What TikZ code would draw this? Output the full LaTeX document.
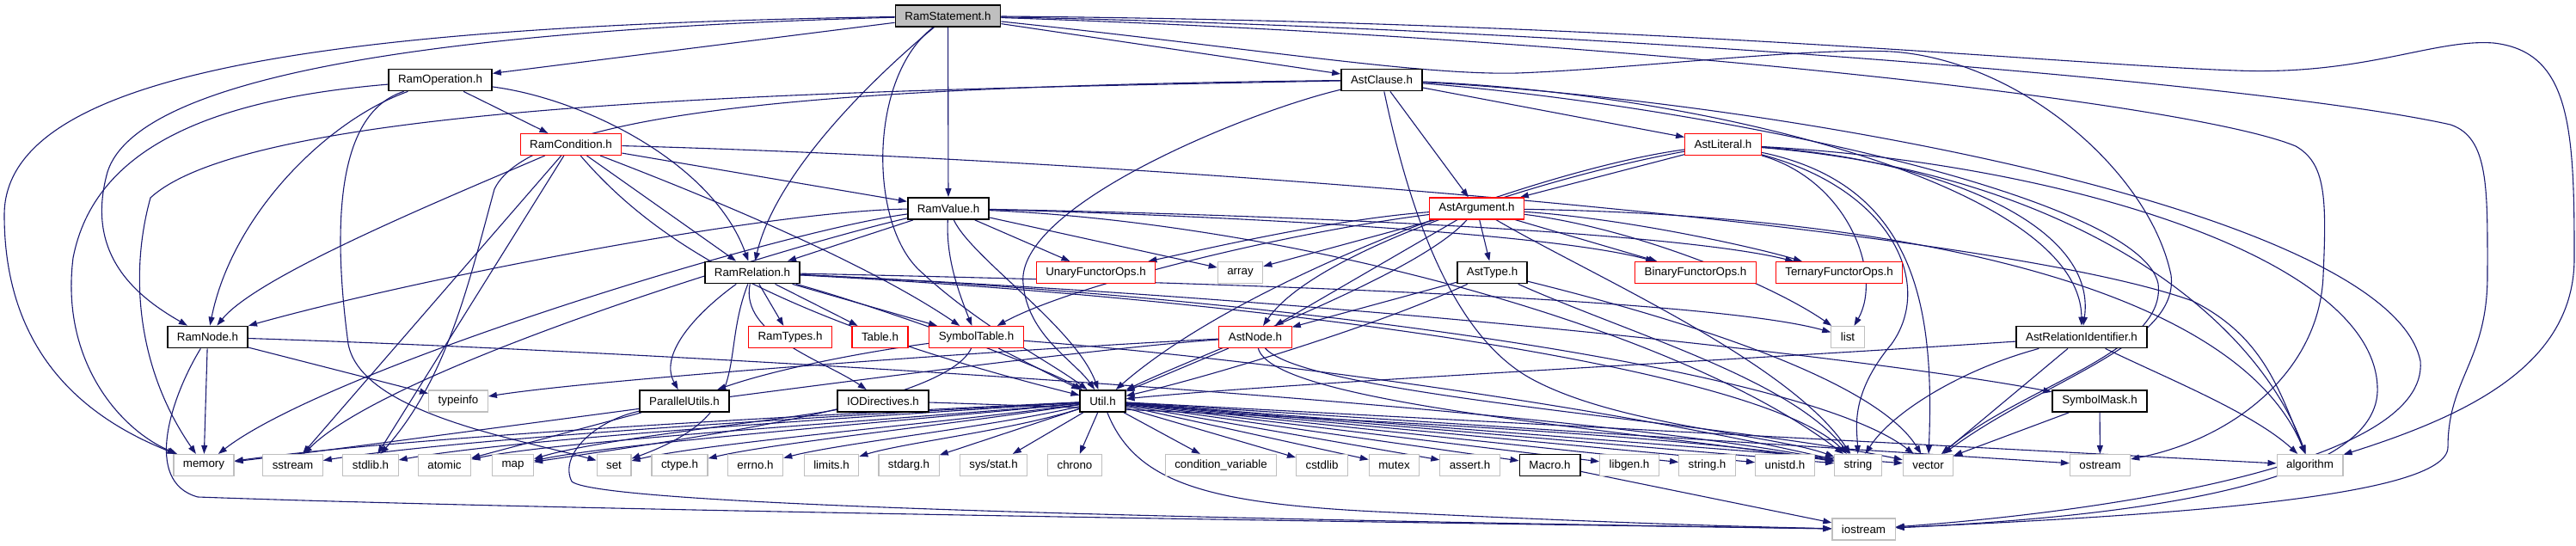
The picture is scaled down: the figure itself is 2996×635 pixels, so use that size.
\documentclass[tikz,border=0pt]{standalone}
\usepackage{fontspec}
\setmainfont{Liberation Sans}
\usepackage{tikz}
\usetikzlibrary{arrows.meta}
\pgfdeclarelayer{background}
\pgfsetlayers{background,main}
\definecolor{edgeNavy}{RGB}{25, 25, 112}
\definecolor{boxRed}{RGB}{255, 0, 0}
\definecolor{boxGrey}{RGB}{191, 191, 191}

\begin{document}
\begin{tikzpicture}[x=0.5pt, y=-0.5pt,
    every node/.style={font=\fontsize{6.67}{8}\selectfont, inner xsep=5.5pt, inner ysep=0pt, minimum height=12.5pt, fill=white},
    file/.style={draw=black, line width=0.9pt},
    cut/.style={draw=boxRed, line width=0.6pt},
    sys/.style={draw=boxGrey, line width=0.6pt},
    root/.style={draw=black, fill=boxGrey, line width=0.9pt},
    dep/.style={draw=edgeNavy, line width=0.55pt, -{Triangle[length=5pt, width=3.5pt]}}]
  \useasboundingbox (0,0) rectangle (2996,635);

  % project headers
  \node[root] (rs) at (1102.5,18.5) {RamStatement.h};
  \node[file] (ro) at (512,93) {RamOperation.h};
  \node[file] (ac) at (1607,93) {AstClause.h};
  \node[cut] (rc) at (664,168) {RamCondition.h};
  \node[cut] (al) at (2004,168) {AstLiteral.h};
  \node[file] (rv) at (1103,242.5) {RamValue.h};
  \node[cut] (aa) at (1717.5,242.5) {AstArgument.h};
  \node[file] (rr) at (875,317) {RamRelation.h};
  \node[cut] (ufo) at (1274.5,317) {UnaryFunctorOps.h};
  \node[sys] (arr) at (1442.5,317) {array};
  \node[file] (at) at (1735.5,317) {AstType.h};
  \node[cut] (bfo) at (1972,317) {BinaryFunctorOps.h};
  \node[cut] (tfo) at (2139,317) {TernaryFunctorOps.h};
  \node[file] (rn) at (241.5,392) {RamNode.h};
  \node[cut] (rt) at (919,392) {RamTypes.h};
  \node[cut] (tab) at (1023.5,392) {Table.h};
  \node[cut] (st) at (1135.5,392) {SymbolTable.h};
  \node[cut] (an) at (1460,392) {AstNode.h};
  \node[sys] (lst) at (2149,392) {list};
  \node[file] (arid) at (2421,392) {AstRelationIdentifier.h};
  \node[sys] (ti) at (533,466.5) {typeinfo};
  \node[file] (pu) at (796,466.5) {ParallelUtils.h};
  \node[file] (iod) at (1027,466.5) {IODirectives.h};
  \node[file] (util) at (1282.5,466.5) {Util.h};
  \node[file] (sm) at (2442,466.5) {SymbolMask.h};

  % system headers
  \node[sys] (mem) at (237,541) {memory};
  \node[sys] (sst) at (340.5,541) {sstream};
  \node[sys] (stdl) at (431,541) {stdlib.h};
  \node[sys] (atom) at (517,541) {atomic};
  \node[sys] (map) at (596.5,541) {map};
  \node[sys] (set) at (714,541) {set};
  \node[sys] (ctype) at (790.5,541) {ctype.h};
  \node[sys] (errno) at (878.5,541) {errno.h};
  \node[sys] (lim) at (967,541) {limits.h};
  \node[sys] (stdarg) at (1057,541) {stdarg.h};
  \node[sys] (sstat) at (1155.5,541) {sys/stat.h};
  \node[sys] (chr) at (1250,541) {chrono};
  \node[sys] (cvar) at (1420,541) {condition\_variable};
  \node[sys] (cstd) at (1537.5,541) {cstdlib};
  \node[sys] (mtx) at (1621.5,541) {mutex};
  \node[sys] (asrt) at (1709.5,541) {assert.h};
  \node[file] (macro) at (1802.5,541) {Macro.h};
  \node[sys] (libgen) at (1895,541) {libgen.h};
  \node[sys] (strh) at (1985.5,541) {string.h};
  \node[sys] (unistd) at (2076,541) {unistd.h};
  \node[sys] (str) at (2161,541) {string};
  \node[sys] (vec) at (2242.5,541) {vector};
  \node[sys] (ost) at (2442.5,541) {ostream};
  \node[sys] (algo) at (2686.5,541) {algorithm};
  \node[sys] (ios) at (2167.5,615.5) {iostream};

  \begin{pgfonlayer}{background}
  % RamStatement.h
  \draw[dep] (rs) -- (ro);
  \draw[dep] (rs) -- (ac);
  \draw[dep] (rs) -- (rv);
  \draw[dep] (rs) .. controls (1040,70) and (905,190) .. (rr);
  \draw[dep] (rs) .. controls (500,35) and (160,90) .. (125,200) .. controls (100,290) and (150,340) .. (rn);
  \draw[dep] (rs) .. controls (400,30) and (5,80) .. (5,250) .. controls (5,420) and (110,490) .. (mem);
  \draw[dep] (rs) .. controls (1010,90) and (1010,260) .. (1070,315) .. controls (1140,380) and (1220,420) .. (util);
  \draw[dep] (rs) .. controls (1900,25) and (2400,75) .. (2600,82) .. controls (2750,88) and (2830,45) .. (2900,50) .. controls (2990,60) and (2994,150) .. (2994,300) .. controls (2994,420) and (2880,480) .. (algo);
  \draw[dep] (rs) .. controls (1900,35) and (2650,100) .. (2850,145) .. controls (2895,160) and (2893,220) .. (2893,320) .. controls (2893,420) and (2847,440) .. (2847,520) .. controls (2847,580) and (2500,600) .. (ios);
  \draw[dep] (rs) .. controls (1900,45) and (2550,120) .. (2670,170) .. controls (2705,190) and (2706,230) .. (2702,320) .. controls (2698,430) and (2600,510) .. (ost);
  \draw[dep] (rs) .. controls (1450,55) and (1650,88) .. (1765,85) .. controls (1900,80) and (2100,55) .. (2200,60) .. controls (2350,70) and (2500,200) .. (2525,320) .. controls (2535,400) and (2380,440) .. (vec);

  % RamOperation.h
  \draw[dep] (ro) -- (rc);
  \draw[dep] (ro) .. controls (680,115) and (830,190) .. (rr);
  \draw[dep] (ro) .. controls (380,140) and (270,250) .. (rn);
  \draw[dep] (ro) .. controls (250,115) and (110,170) .. (85,300) .. controls (70,420) and (140,500) .. (mem);
  \draw[dep] (ro) .. controls (395,130) and (385,250) .. (405,400) .. controls (420,480) and (600,510) .. (set);

  % RamCondition.h
  \draw[dep] (rc) -- (rv);
  \draw[dep] (rc) -- (rr);
  \draw[dep] (rc) .. controls (520,230) and (300,320) .. (rn);
  \draw[dep] (rc) -- (sst);
  \draw[dep] (rc) -- (stdl);
  \draw[dep] (rc) .. controls (800,220) and (1000,300) .. (st);
  \draw[dep] (rc) .. controls (760,280) and (900,370) .. (util);
  \draw[dep] (rc) .. controls (1300,185) and (2300,260) .. (2550,350) .. controls (2630,390) and (2650,450) .. (algo);

  % RamValue.h
  \draw[dep] (rv) -- (rr);
  \draw[dep] (rv) .. controls (900,245) and (500,320) .. (rn);
  \draw[dep] (rv) -- (ufo);
  \draw[dep] (rv) -- (arr);
  \draw[dep] (rv) .. controls (1400,250) and (1800,270) .. (bfo);
  \draw[dep] (rv) .. controls (1500,250) and (1950,270) .. (tfo);
  \draw[dep] (rv) .. controls (1100,300) and (1115,340) .. (st);
  \draw[dep] (rv) .. controls (1130,300) and (1250,380) .. (util);
  \draw[dep] (rv) .. controls (900,270) and (380,430) .. (mem);
  \draw[dep] (rv) .. controls (900,290) and (450,430) .. (sst);
  \draw[dep] (rv) .. controls (1500,260) and (1950,380) .. (str);

  % RamRelation.h
  \draw[dep] (rr) -- (rt);
  \draw[dep] (rr) -- (tab);
  \draw[dep] (rr) -- (st);
  \draw[dep] (rr) .. controls (815,360) and (765,410) .. (pu);
  \draw[dep] (rr) .. controls (860,390) and (960,420) .. (iod);
  \draw[dep] (rr) .. controls (835,420) and (880,480) .. (set);
  \draw[dep] (rr) .. controls (1000,350) and (1200,420) .. (util);
  \draw[dep] (rr) .. controls (1500,330) and (2000,350) .. (lst);
  \draw[dep] (rr) .. controls (1500,350) and (2050,430) .. (str);
  \draw[dep] (rr) .. controls (1500,345) and (2100,430) .. (vec);
  \draw[dep] (rr) .. controls (1600,350) and (2200,420) .. (sm);

  % SymbolTable.h
  \draw[dep] (st) -- (util);
  \draw[dep] (st) .. controls (1000,410) and (900,430) .. (pu);
  \draw[dep] (st) .. controls (1100,470) and (800,510) .. (map);
  \draw[dep] (st) .. controls (1500,420) and (1900,480) .. (str);

  % AstClause.h
  \draw[dep] (ac) -- (al);
  \draw[dep] (ac) -- (aa);
  \draw[dep] (ac) .. controls (1450,130) and (1180,240) .. (1190,330) .. controls (1195,390) and (1250,420) .. (util);
  \draw[dep] (ac) .. controls (1640,250) and (1690,390) .. (1780,440) .. controls (1880,495) and (2060,505) .. (str);
  \draw[dep] (ac) .. controls (1000,105) and (300,115) .. (175,230) .. controls (150,320) and (160,430) .. (mem);
  \draw[dep] (ac) .. controls (1000,100) and (620,125) .. (575,220) .. controls (545,330) and (520,440) .. (stdl);
  \draw[dep] (ac) .. controls (2000,110) and (2420,220) .. (arid);
  \draw[dep] (ac) .. controls (2000,125) and (2490,230) .. (2510,330) .. controls (2520,410) and (2350,450) .. (vec);
  \draw[dep] (ac) .. controls (2100,120) and (2780,250) .. (2815,420) .. controls (2825,540) and (2450,595) .. (ios);

  % AstLiteral.h
  \draw[dep] (al) -- (aa);
  \draw[dep] (al) .. controls (2250,185) and (2440,260) .. (arid);
  \draw[dep] (al) .. controls (1800,195) and (1450,320) .. (util);
  \draw[dep] (al) .. controls (1800,205) and (1530,290) .. (an);
  \draw[dep] (al) .. controls (2150,210) and (2190,320) .. (lst);
  \draw[dep] (al) .. controls (2200,220) and (2250,330) .. (2200,400) .. controls (2150,460) and (2160,500) .. (str);
  \draw[dep] (al) .. controls (2230,215) and (2250,360) .. (vec);
  \draw[dep] (al) .. controls (2400,190) and (2760,300) .. (2765,450) .. controls (2770,560) and (2500,600) .. (ios);
  \draw[dep] (al) .. controls (2400,200) and (2620,360) .. (algo);

  % AstArgument.h
  \draw[dep] (aa) -- (at);
  \draw[dep] (aa) -- (an);
  \draw[dep] (aa) .. controls (1550,255) and (1400,290) .. (ufo);
  \draw[dep] (aa) -- (arr);
  \draw[dep] (aa) -- (bfo);
  \draw[dep] (aa) .. controls (1900,255) and (2050,290) .. (tfo);
  \draw[dep] (aa) .. controls (1500,270) and (1250,330) .. (st);
  \draw[dep] (aa) .. controls (1650,320) and (1400,410) .. (util);
  \draw[dep] (aa) .. controls (1900,265) and (2060,330) .. (lst);
  \draw[dep] (aa) .. controls (1850,320) and (2080,420) .. (str);
  \draw[dep] (aa) .. controls (2200,250) and (2600,330) .. (algo);

  % AstType.h
  \draw[dep] (at) -- (an);
  \draw[dep] (at) .. controls (1600,380) and (1400,440) .. (util);
  \draw[dep] (at) .. controls (1900,390) and (2080,440) .. (str);
  \draw[dep] (at) .. controls (1950,370) and (2180,440) .. (vec);

  % AstNode.h
  \draw[dep] (an) .. controls (1200,405) and (700,440) .. (ti);
  \draw[dep] (an) -- (util);
  \draw[dep] (an) .. controls (1200,410) and (500,510) .. (mem);
  \draw[dep] (an) .. controls (1480,470) and (1900,500) .. (str);
  \draw[dep] (an) .. controls (1520,460) and (2000,490) .. (vec);

  % Util.h
  \draw[dep] (util) .. controls (1000,480) and (500,505) .. (mem);
  \draw[dep] (util) .. controls (1000,482) and (550,508) .. (sst);
  \draw[dep] (util) .. controls (1000,485) and (600,510) .. (stdl);
  \draw[dep] (util) .. controls (1050,488) and (650,512) .. (atom);
  \draw[dep] (util) .. controls (1050,490) and (720,515) .. (map);
  \draw[dep] (util) .. controls (1100,492) and (820,515) .. (set);
  \draw[dep] (util) .. controls (1100,495) and (900,515) .. (ctype);
  \draw[dep] (util) .. controls (1150,497) and (980,515) .. (errno);
  \draw[dep] (util) .. controls (1180,500) and (1050,515) .. (lim);
  \draw[dep] (util) -- (stdarg);
  \draw[dep] (util) -- (sstat);
  \draw[dep] (util) -- (chr);
  \draw[dep] (util) -- (cvar);
  \draw[dep] (util) -- (cstd);
  \draw[dep] (util) -- (mtx);
  \draw[dep] (util) -- (asrt);
  \draw[dep] (util) -- (macro);
  \draw[dep] (util) -- (libgen);
  \draw[dep] (util) -- (strh);
  \draw[dep] (util) -- (unistd);
  \draw[dep] (util) -- (str);
  \draw[dep] (util) -- (vec);
  \draw[dep] (util) -- (ost);
  \draw[dep] (util) -- (algo);
  \draw[dep] (util) .. controls (1320,560) and (1400,585) .. (1600,595) .. controls (1850,607) and (2000,612) .. (ios);

  % ParallelUtils.h, IODirectives.h
  \draw[dep] (pu) -- (atom);
  \draw[dep] (pu) .. controls (690,490) and (650,530) .. (665,560) .. controls (700,590) and (1500,605) .. (ios);
  \draw[dep] (iod) .. controls (900,490) and (700,510) .. (map);
  \draw[dep] (iod) .. controls (1150,470) and (1900,495) .. (str);

  % RamNode.h
  \draw[dep] (rn) -- (mem);
  \draw[dep] (rn) -- (ti);
  \draw[dep] (rn) .. controls (200,460) and (165,560) .. (230,578) .. controls (700,595) and (1800,610) .. (ios);
  \draw[dep] (rn) .. controls (800,410) and (1800,470) .. (str);

  % the rest
  \draw[dep] (sm) -- (vec);
  \draw[dep] (sm) -- (ost);
  \draw[dep] (arid) .. controls (2000,420) and (1500,445) .. (util);
  \draw[dep] (arid) .. controls (2280,430) and (2200,480) .. (str);
  \draw[dep] (arid) -- (vec);
  \draw[dep] (arid) .. controls (2520,440) and (2620,480) .. (algo);
  \draw[dep] (macro) -- (ios);
  \end{pgfonlayer}
\end{tikzpicture}
\end{document}
